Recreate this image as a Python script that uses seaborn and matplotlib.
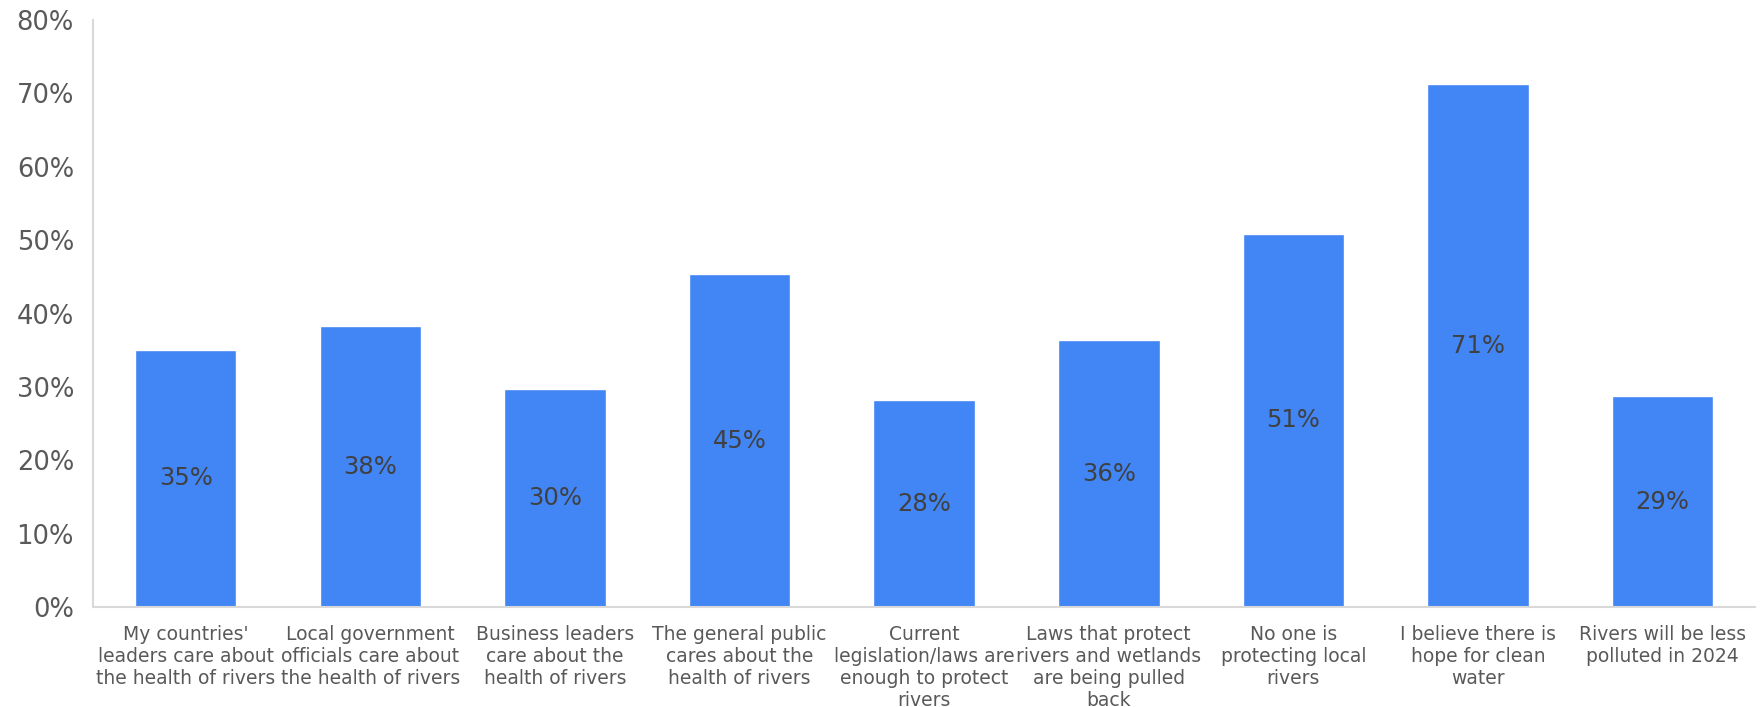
import matplotlib.pyplot as plt
import seaborn as sns
import pandas as pd
from matplotlib.ticker import PercentFormatter

# Survey statements and share agreeing (%)
statements = [
    "My countries'\nleaders care about\nthe health of rivers",
    "Local government\nofficials care about\nthe health of rivers",
    "Business leaders\ncare about the\nhealth of rivers",
    "The general public\ncares about the\nhealth of rivers",
    "Current\nlegislation/laws are\nenough to protect\nrivers",
    "Laws that protect\nrivers and wetlands\nare being pulled\nback",
    "No one is\nprotecting local\nrivers",
    "I believe there is\nhope for clean\nwater",
    "Rivers will be less\npolluted in 2024",
]
agree = [35.1, 38.3, 29.7, 45.4, 28.2, 36.4, 50.9, 71.3, 28.8]
y_ticks = [0, 10, 20, 30, 40, 50, 60, 70, 80]

sns.set_style("white")
plt.rcParams['font.family'] = ['DejaVu Sans']

df = pd.DataFrame({'Statement': statements, 'Agree': agree})

fig = plt.figure(figsize=(17.62, 7.07), dpi=100)
ax = fig.add_axes([0.053, 0.141, 0.943, 0.831])

sns.barplot(x='Statement', y='Agree', data=df, ax=ax, color='#4285F4',
            width=0.55, saturation=1)

ax.bar_label(ax.containers[0], labels=[f"{round(v)}%" for v in agree],
             label_type='center', fontsize=17.5, color='#404040')

ax.set_ylim(0, 80)
ax.set_xlim(-0.5, len(statements) - 0.5)
ax.set_yticks(y_ticks)
ax.yaxis.set_major_formatter(PercentFormatter(decimals=0))
ax.tick_params(axis='y', labelsize=18.5, labelcolor='#595959', length=0, pad=14)
ax.tick_params(axis='x', labelsize=13.5, labelcolor='#595959', length=0, pad=13)
ax.set_xlabel('')
ax.set_ylabel('')

for s in ['top', 'right']:
    ax.spines[s].set_visible(False)
for s in ['left', 'bottom']:
    ax.spines[s].set_color('#D9D9D9')
    ax.spines[s].set_linewidth(1.5)

fig.savefig('out.png', dpi=100)
